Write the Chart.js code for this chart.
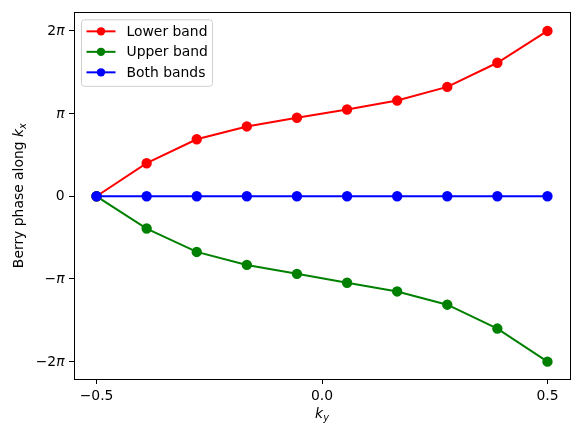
<!DOCTYPE html>
<html>
<head>
<meta charset="utf-8">
<script src="https://cdn.jsdelivr.net/npm/chart.js@4.4.1/dist/chart.umd.min.js"></script>
<style>
  html, body { margin: 0; padding: 0; background: #fff; font-family: "DejaVu Sans", sans-serif; }
  #wrap { width: 580px; height: 438px; }
</style>
</head>
<body>
<div id="wrap"><canvas id="berry" width="580" height="438"></canvas></div>
<script>
// k_y sample points
const kyValues = [-0.5, -0.3889, -0.2778, -0.1667, -0.0556, 0.0556, 0.1667, 0.2778, 0.3889, 0.5];
// Berry phase in units of pi
const lowerBand = [0, 0.40, 0.69, 0.845, 0.95, 1.05, 1.158, 1.323, 1.615, 2.0];
const upperBand = [0, -0.39, -0.673, -0.83, -0.938, -1.046, -1.151, -1.311, -1.60, -2.0];
const bothBands = [0, 0, 0, 0, 0, 0, 0, 0, 0, 0];

const xTicks = [-0.5, 0, 0.5];
const xTickLabels = ['\u22120.5', '0.0', '0.5'];
const yTicks = [-2, -1, 0, 1, 2];
const yTickLabels = ['\u22122\u03c0', '\u2212\u03c0', '0', '\u03c0', '2\u03c0'];

const FONT = '"DejaVu Sans", sans-serif';
const FS = 13.9;

function toPoints(ys) {
  return kyValues.map((x, i) => ({ x: x, y: ys[i] }));
}

function series(label, ys, color, order) {
  return {
    label: label,
    data: toPoints(ys),
    borderColor: color,
    backgroundColor: color,
    pointBackgroundColor: color,
    pointBorderColor: color,
    borderWidth: 2,
    pointRadius: 4.2,
    pointHoverRadius: 4.2,
    tension: 0,
    fill: false,
    order: order
  };
}

// draws text where the pi symbol is italic, like matplotlib mathtext
function mathText(ctx, text, xRight, y) {
  const parts = text.split(/(\u03c0)/).filter(p => p.length);
  const fonts = parts.map(p => (p === '\u03c0' ? 'italic ' : '') + FS + 'px ' + FONT);
  const widths = parts.map((p, i) => { ctx.font = fonts[i]; return ctx.measureText(p).width; });
  let x = xRight - widths.reduce((s, w) => s + w, 0);
  ctx.textAlign = 'left';
  parts.forEach((p, i) => {
    ctx.font = fonts[i];
    ctx.fillText(p, x, y);
    x += widths[i];
  });
}

// frame + tick labels on y + axis titles + legend drawn the matplotlib way
const decorations = {
  id: 'decorations',
  afterDraw(chart) {
    const ctx = chart.ctx;
    const a = chart.chartArea;
    ctx.save();
    ctx.strokeStyle = '#000';
    ctx.lineWidth = 1;
    ctx.strokeRect(Math.round(a.left) + 0.5, Math.round(a.top) + 0.5,
      Math.round(a.right - a.left), Math.round(a.bottom - a.top));

    ctx.fillStyle = '#000';
    ctx.textBaseline = 'middle';
    const ys = chart.scales.y;
    yTicks.forEach((v, i) => {
      mathText(ctx, yTickLabels[i], a.left - 9.5, ys.getPixelForValue(v) + 0.5);
    });

    ctx.textBaseline = 'alphabetic';
    // x title: k_y
    const cx = (a.left + a.right) / 2;
    ctx.font = 'italic ' + FS + 'px ' + FONT;
    const kw = ctx.measureText('k').width;
    ctx.font = 'italic ' + (FS * 0.7) + 'px ' + FONT;
    const sw = ctx.measureText('y').width;
    let x0 = cx - (kw + sw) / 2;
    ctx.font = 'italic ' + FS + 'px ' + FONT;
    ctx.textAlign = 'left';
    ctx.fillText('k', x0, 418);
    ctx.font = 'italic ' + (FS * 0.7) + 'px ' + FONT;
    ctx.fillText('y', x0 + kw, 421);

    // y title: Berry phase along k_x
    ctx.save();
    ctx.translate(23, (a.top + a.bottom) / 2);
    ctx.rotate(-Math.PI / 2);
    const plain = 'Berry phase along ';
    ctx.font = FS + 'px ' + FONT;
    const pw = ctx.measureText(plain).width;
    ctx.font = 'italic ' + FS + 'px ' + FONT;
    const kw2 = ctx.measureText('k').width;
    ctx.font = 'italic ' + (FS * 0.7) + 'px ' + FONT;
    const xw = ctx.measureText('x').width;
    let s = -(pw + kw2 + xw) / 2;
    ctx.font = FS + 'px ' + FONT;
    ctx.fillText(plain, s, 0);
    ctx.font = 'italic ' + FS + 'px ' + FONT;
    ctx.fillText('k', s + pw, 0);
    ctx.font = 'italic ' + (FS * 0.7) + 'px ' + FONT;
    ctx.fillText('x', s + pw + kw2, 3);
    ctx.restore();

    // legend box
    const lx = a.left + 7.5, ly = a.top + 7.5, lw = 131, lh = 66.5, r = 3;
    ctx.beginPath();
    ctx.moveTo(lx + r, ly);
    ctx.arcTo(lx + lw, ly, lx + lw, ly + lh, r);
    ctx.arcTo(lx + lw, ly + lh, lx, ly + lh, r);
    ctx.arcTo(lx, ly + lh, lx, ly, r);
    ctx.arcTo(lx, ly, lx + lw, ly, r);
    ctx.closePath();
    ctx.fillStyle = 'rgba(255,255,255,0.8)';
    ctx.fill();
    ctx.strokeStyle = '#d0d0d0';
    ctx.lineWidth = 1;
    ctx.stroke();

    chart.data.datasets.forEach((ds, i) => {
      const ry = ly + 11.5 + i * 20.5;
      ctx.strokeStyle = ds.borderColor;
      ctx.lineWidth = 2;
      ctx.beginPath();
      ctx.moveTo(lx + 5, ry);
      ctx.lineTo(lx + 34, ry);
      ctx.stroke();
      ctx.fillStyle = ds.borderColor;
      ctx.beginPath();
      ctx.arc(lx + 19.5, ry, 4.2, 0, Math.PI * 2);
      ctx.fill();
      ctx.fillStyle = '#000';
      ctx.font = FS + 'px ' + FONT;
      ctx.textAlign = 'left';
      ctx.textBaseline = 'middle';
      ctx.fillText(ds.label, lx + 45, ry + 1);
    });
    ctx.restore();
  }
};

new Chart(document.getElementById('berry'), {
  type: 'line',
  data: {
    datasets: [
      series('Lower band', lowerBand, '#ff0000', 3),
      series('Upper band', upperBand, '#008000', 2),
      series('Both bands', bothBands, '#0000ff', 1)
    ]
  },
  options: {
    responsive: false,
    animation: false,
    devicePixelRatio: 1,
    layout: { padding: { top: 9, right: 10, left: 0, bottom: 0 } },
    plugins: {
      legend: { display: false },
      tooltip: { enabled: false }
    },
    scales: {
      x: {
        type: 'linear',
        min: -0.55,
        max: 0.55,
        afterBuildTicks: (s) => { s.ticks = xTicks.map(v => ({ value: v })); },
        afterFit: (s) => { s.height = 59; },
        grid: { drawOnChartArea: false, tickLength: 5, color: '#000', tickColor: '#000' },
        border: { display: false },
        ticks: {
          color: '#000',
          padding: 4,
          maxRotation: 0,
          font: { family: FONT, size: FS },
          callback: (v) => xTickLabels[xTicks.indexOf(v)]
        }
      },
      y: {
        type: 'linear',
        min: -2.21,
        max: 2.225,
        afterBuildTicks: (s) => { s.ticks = yTicks.map(v => ({ value: v })); },
        afterFit: (s) => { s.width = 74; },
        grid: { drawOnChartArea: false, tickLength: 5, color: '#000', tickColor: '#000' },
        border: { display: false },
        ticks: {
          color: 'rgba(0,0,0,0)',
          padding: 4,
          font: { family: FONT, size: FS },
          callback: (v) => yTickLabels[yTicks.indexOf(v)]
        }
      }
    }
  },
  plugins: [decorations]
});
</script>
</body>
</html>
